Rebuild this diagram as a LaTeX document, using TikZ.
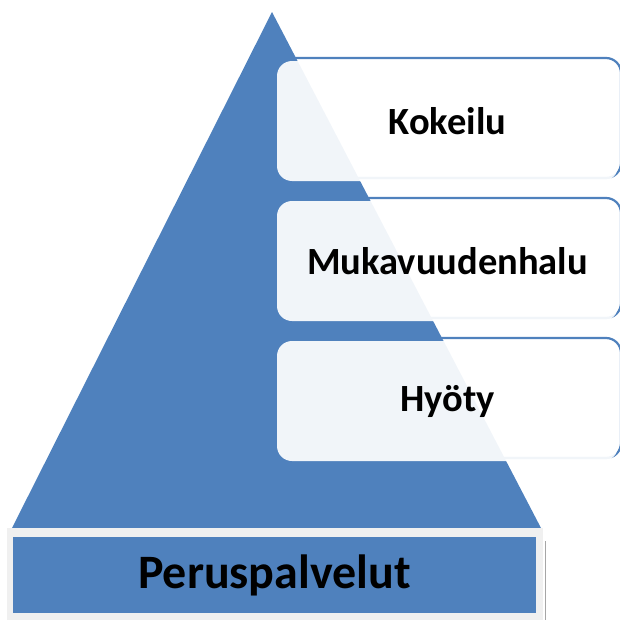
\documentclass[tikz,border=0pt]{standalone}
\usepackage{fontspec}
\setmainfont{Carlito}
\definecolor{pyrblue}{HTML}{4F81BD}
\definecolor{basegray}{HTML}{F0F0F0}
\begin{document}
\begin{tikzpicture}[x=1pt,y=-1pt,
  levelbox/.style={rounded corners=15pt, minimum width=341pt, minimum height=120pt,
    fill=white, fill opacity=0.92, text opacity=1, inner sep=0pt,
    font=\fontsize{38.5}{44}\selectfont\bfseries,
    preaction={draw=pyrblue, line width=2.2pt, draw opacity=1, fill=none,
      transform canvas={shift={(3pt,3pt)}}}},
  basetext/.style={font=\fontsize{48}{54}\selectfont\bfseries, inner sep=0pt}]
\useasboundingbox (0,0) rectangle (620,621);
% pyramid
\coordinate (apex) at (272,12);
\coordinate (bl) at (12,528);
\coordinate (br) at (541,528);
\fill[pyrblue] (apex) -- (br) -- (bl) -- cycle;
% base
\fill[basegray] (7,528) rectangle (543,620);
\draw[gray!70, line width=1pt] (545,541) -- (545,620);
\node[fill=pyrblue, minimum width=523pt, minimum height=76pt, inner sep=0pt] (base) at (274.5,575) {};
\node[basetext] (basetxt) at (base.center) {Peruspalvelut};
% levels
\node[levelbox] (l1) at (447.5,121) {Kokeilu};
\node[levelbox] (l2) at (447.5,261) {Mukavuudenhalu};
\node[levelbox] (l3) at (447.5,401) {Hyöty};
\end{tikzpicture}
\end{document}
